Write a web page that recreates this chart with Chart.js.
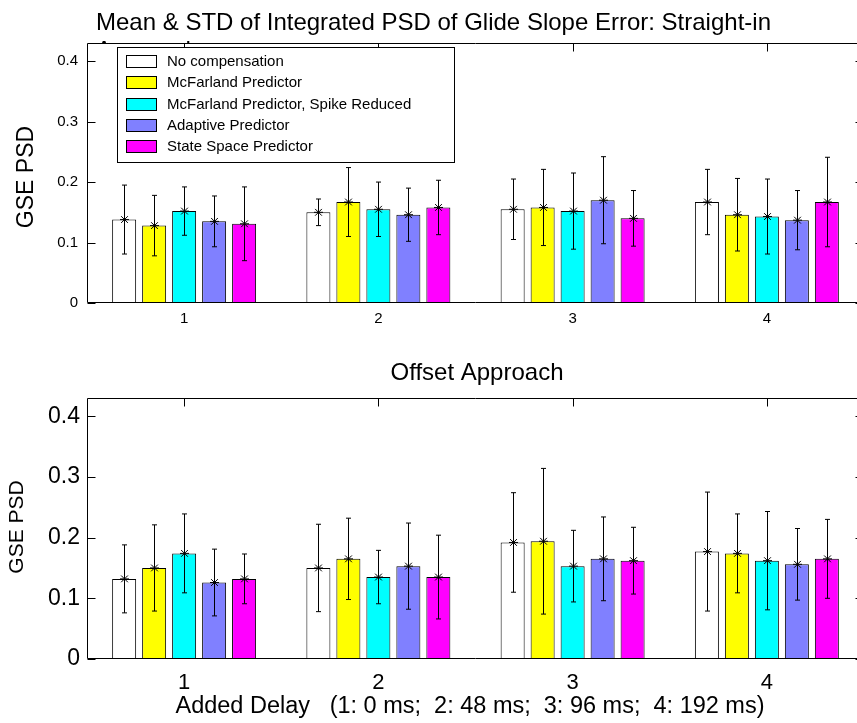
<!DOCTYPE html>
<html>
<head>
<meta charset="utf-8">
<script src="https://cdn.jsdelivr.net/npm/chart.js@4.4.1/dist/chart.umd.min.js"></script>
<style>
  html, body { margin: 0; padding: 0; background: #fff; overflow: hidden; width: 857px; height: 723px; }
  canvas { position: absolute; left: 0; }
  #straightIn { top: 0; }
  #offset { top: 340px; }
</style>
</head>
<body>
<canvas id="straightIn" width="866" height="340"></canvas>
<canvas id="offset" width="866" height="383"></canvas>
<script>
// Added delay conditions (x categories)
const delays = ['1', '2', '3', '4'];
const yTickValues = [0, 0.1, 0.2, 0.3, 0.4];

// Predictor series
const seriesNames = [
  'No compensation',
  'McFarland Predictor',
  'McFarland Predictor, Spike Reduced',
  'Adaptive Predictor',
  'State Space Predictor'
];
const seriesColors = ['#ffffff', '#ffff00', '#00ffff', '#8080ff', '#ff00ff'];

// Straight-in approach: mean integrated PSD per delay
const siNoComp     = [0.138, 0.150, 0.155, 0.167];
const siMcFarland  = [0.128, 0.167, 0.158, 0.146];
const siSpikeRed   = [0.152, 0.155, 0.152, 0.143];
const siAdaptive   = [0.135, 0.146, 0.170, 0.137];
const siStateSpace = [0.131, 0.158, 0.140, 0.167];
// Straight-in approach: standard deviation per delay
const siNoCompSd     = [0.057, 0.022, 0.050, 0.054];
const siMcFarlandSd  = [0.050, 0.057, 0.063, 0.060];
const siSpikeRedSd   = [0.040, 0.045, 0.063, 0.062];
const siAdaptiveSd   = [0.042, 0.044, 0.072, 0.049];
const siStateSpaceSd = [0.061, 0.045, 0.046, 0.074];

// Offset approach: mean integrated PSD per delay
const ofNoComp     = [0.132, 0.150, 0.192, 0.177];
const ofMcFarland  = [0.150, 0.165, 0.194, 0.174];
const ofSpikeRed   = [0.174, 0.135, 0.153, 0.162];
const ofAdaptive   = [0.126, 0.153, 0.165, 0.156];
const ofStateSpace = [0.132, 0.135, 0.162, 0.165];
// Offset approach: standard deviation per delay
const ofNoCompSd     = [0.056, 0.072, 0.082, 0.098];
const ofMcFarlandSd  = [0.071, 0.067, 0.120, 0.065];
const ofSpikeRedSd   = [0.065, 0.044, 0.059, 0.081];
const ofAdaptiveSd   = [0.055, 0.071, 0.069, 0.059];
const ofStateSpaceSd = [0.041, 0.069, 0.055, 0.065];

const FONT = '"Liberation Sans", Arial, Helvetica, sans-serif';

function buildDatasets(means, sds) {
  return means.map((m, i) => ({
    label: seriesNames[i],
    data: m,
    sd: sds[i],
    backgroundColor: seriesColors[i],
    borderColor: '#000',
    borderWidth: 1,
    borderSkipped: false,
    categoryPercentage: 0.772,
    barPercentage: 0.8
  }));
}

// Axes box, inward ticks, error bars, titles and legend drawn on the canvas
function decorPlugin(cfg) {
  return {
    id: 'decor',
    beforeDraw(chart) {
      const ctx = chart.ctx, a = chart.chartArea;
      ctx.save();
      ctx.fillStyle = '#fff';
      ctx.fillRect(0, 0, chart.width, chart.height);
      ctx.fillStyle = '#000';
      ctx.font = cfg.titleFont + 'px ' + FONT;
      ctx.textBaseline = 'alphabetic';
      ctx.textAlign = cfg.titleAlign;
      cfg.titleLines.forEach(t => ctx.fillText(t.text, t.x, t.y));
      // plot background sits over the title's wrapped line
      ctx.fillStyle = '#fff';
      ctx.fillRect(a.left, a.top, a.right - a.left, a.bottom - a.top);
      // y axis label
      ctx.fillStyle = '#000';
      ctx.font = cfg.yLabelFont + 'px ' + FONT;
      ctx.textAlign = 'center';
      ctx.textBaseline = 'middle';
      ctx.translate(cfg.yLabelX, cfg.yLabelY);
      ctx.rotate(-Math.PI / 2);
      ctx.fillText('GSE PSD', 0, 0);
      ctx.restore();
      if (cfg.xLabel) {
        ctx.save();
        ctx.fillStyle = '#000';
        ctx.font = cfg.xLabelFont + 'px ' + FONT;
        ctx.textAlign = 'center';
        ctx.textBaseline = 'middle';
        ctx.fillText(cfg.xLabel, cfg.xLabelX, cfg.xLabelY);
        ctx.restore();
      }
    },
    beforeDatasetsDraw(chart) {
      const ctx = chart.ctx, a = chart.chartArea;
      const xs = chart.scales.x, ys = chart.scales.y;
      const L = Math.round(a.left) + 0.5, R = Math.round(a.right) - 0.5;
      const T = Math.round(a.top) + 0.5, B = Math.round(a.bottom) - 0.5;
      const tl = 8;
      ctx.save();
      ctx.strokeStyle = '#000';
      ctx.lineWidth = 1;
      ctx.beginPath();
      ctx.moveTo(L, T); ctx.lineTo(R, T); ctx.lineTo(R, B); ctx.lineTo(L, B); ctx.closePath();
      ys.ticks.forEach(t => {
        const y = Math.round(ys.getPixelForValue(t.value)) + 0.5;
        ctx.moveTo(L, y); ctx.lineTo(L + tl, y);
        ctx.moveTo(R, y); ctx.lineTo(R - tl, y);
      });
      delays.forEach((d, i) => {
        const x = Math.round(xs.getPixelForValue(i)) + 0.5;
        ctx.moveTo(x, T); ctx.lineTo(x, T + tl);
        ctx.moveTo(x, B); ctx.lineTo(x, B - tl);
      });
      ctx.stroke();
      ctx.restore();
    },
    afterDatasetsDraw(chart) {
      const ctx = chart.ctx, ys = chart.scales.y;
      ctx.save();
      ctx.strokeStyle = '#000';
      ctx.lineWidth = 1;
      chart.data.datasets.forEach((ds, i) => {
        chart.getDatasetMeta(i).data.forEach((bar, j) => {
          const x = Math.round(bar.x) + 0.5;
          const yTop = ys.getPixelForValue(ds.data[j] + ds.sd[j]);
          const yBot = ys.getPixelForValue(ds.data[j] - ds.sd[j]);
          const yM = bar.y;
          ctx.beginPath();
          ctx.moveTo(x, yTop); ctx.lineTo(x, yBot);
          ctx.moveTo(x - 2.5, yTop); ctx.lineTo(x + 2.5, yTop);
          ctx.moveTo(x - 2.5, yBot); ctx.lineTo(x + 2.5, yBot);
          // asterisk marker at the mean
          const r = 4.5;
          ctx.moveTo(x - r, yM); ctx.lineTo(x + r, yM);
          ctx.moveTo(x, yM - r); ctx.lineTo(x, yM + r);
          ctx.moveTo(x - r * 0.75, yM - r * 0.75); ctx.lineTo(x + r * 0.75, yM + r * 0.75);
          ctx.moveTo(x - r * 0.75, yM + r * 0.75); ctx.lineTo(x + r * 0.75, yM - r * 0.75);
          ctx.stroke();
        });
      });
      ctx.restore();
    },
    afterDraw(chart) {
      if (!cfg.legend) return;
      const ctx = chart.ctx, g = cfg.legend;
      ctx.save();
      ctx.fillStyle = '#fff';
      ctx.fillRect(g.x, g.y, g.w, g.h);
      ctx.strokeStyle = '#000';
      ctx.lineWidth = 1;
      ctx.strokeRect(g.x + 0.5, g.y + 0.5, g.w - 1, g.h - 1);
      ctx.font = g.font + 'px ' + FONT;
      ctx.textAlign = 'left';
      ctx.textBaseline = 'middle';
      chart.data.datasets.forEach((ds, i) => {
        const cy = g.y + g.first + i * g.step;
        ctx.fillStyle = ds.backgroundColor;
        ctx.fillRect(g.x + 9, Math.round(cy - 6.5), 31, 13);
        ctx.strokeStyle = '#000';
        ctx.strokeRect(g.x + 9.5, Math.round(cy - 6.5) + 0.5, 30, 12);
        ctx.fillStyle = '#000';
        ctx.fillText(ds.label, g.x + 50, cy + 0.5);
      });
      ctx.restore();
    }
  };
}

function makeChart(id, datasets, opts) {
  return new Chart(document.getElementById(id), {
    type: 'bar',
    data: { labels: delays, datasets },
    options: {
      responsive: false,
      animation: false,
      devicePixelRatio: 1,
      layout: { padding: { top: opts.padTop, right: 2, left: 0, bottom: 0 } },
      plugins: { legend: { display: false }, tooltip: { enabled: false }, title: { display: false } },
      scales: {
        x: {
          type: 'category',
          offset: true,
          grid: { display: false, drawTicks: false },
          border: { display: false },
          ticks: { color: '#000', font: { family: FONT, size: opts.xTickFont }, padding: opts.xTickPad, maxRotation: 0 },
          afterFit(s) { s.height = opts.xHeight; }
        },
        y: {
          min: 0,
          max: 0.43,
          grid: { display: false, drawTicks: false },
          border: { display: false },
          ticks: {
            stepSize: 0.1,
            includeBounds: false,
            color: '#000',
            font: { family: FONT, size: opts.yTickFont },
            padding: opts.yTickPad,
            callback: v => yTickValues.includes(+v.toFixed(1)) ? String(+v.toFixed(1)) : ''
          },
          afterFit(s) { s.width = 87; }
        }
      }
    },
    plugins: [decorPlugin(opts.decor)]
  });
}

makeChart('straightIn',
  buildDatasets(
    [siNoComp, siMcFarland, siSpikeRed, siAdaptive, siStateSpace],
    [siNoCompSd, siMcFarlandSd, siSpikeRedSd, siAdaptiveSd, siStateSpaceSd]),
  {
    padTop: 43, xHeight: 37, xTickFont: 15, xTickPad: 7, yTickFont: 15, yTickPad: 9,
    decor: {
      titleFont: 24, titleAlign: 'left',
      titleLines: [
        { text: 'Mean & STD of Integrated PSD of Glide Slope Error: Straight-in', x: 96, y: 30 },
        { text: 'Approach', x: 96, y: 58 }
      ],
      yLabelFont: 23, yLabelX: 27, yLabelY: 177,
      legend: { x: 117, y: 47, w: 338, h: 116, font: 15, first: 14.5, step: 21.3 }
    }
  });

makeChart('offset',
  buildDatasets(
    [ofNoComp, ofMcFarland, ofSpikeRed, ofAdaptive, ofStateSpace],
    [ofNoCompSd, ofMcFarlandSd, ofSpikeRedSd, ofAdaptiveSd, ofStateSpaceSd]),
  {
    padTop: 58, xHeight: 64, xTickFont: 22, xTickPad: 11, yTickFont: 23, yTickPad: 7,
    decor: {
      titleFont: 24, titleAlign: 'center',
      titleLines: [ { text: 'Offset Approach', x: 477, y: 40 } ],
      yLabelFont: 21, yLabelX: 17, yLabelY: 187,
      xLabel: 'Added Delay   (1: 0 ms;  2: 48 ms;  3: 96 ms;  4: 192 ms)',
      xLabelFont: 23.5, xLabelX: 470, xLabelY: 367
    }
  });
</script>
</body>
</html>
